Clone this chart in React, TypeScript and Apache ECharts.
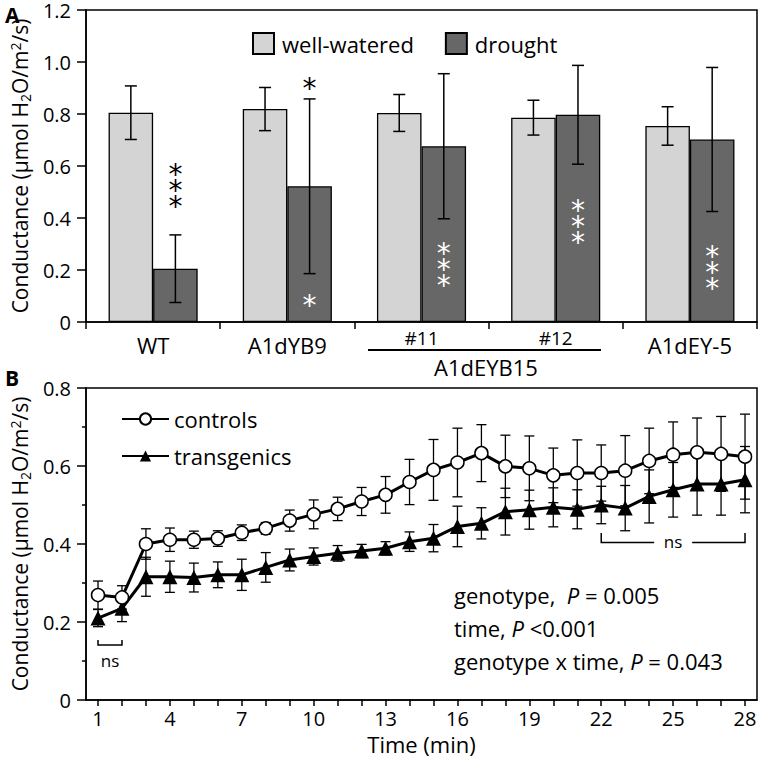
import React, { useEffect, useRef } from "react";
import * as echarts from "echarts";

// ---------- Panel A data ----------
const groups = ["WT", "A1dYB9", "#11", "#12", "A1dEY-5"];
const wellWatered = [0.805, 0.819, 0.804, 0.786, 0.754];
const wellWateredErr = [0.103, 0.083, 0.071, 0.067, 0.074];
const drought = [0.205, 0.522, 0.676, 0.797, 0.702];
const droughtErr = [0.13, 0.336, 0.279, 0.19, 0.277];
// significance marks: [group index, bar side (0 well-watered, 1 drought), y value, count]
const sigMarks = [
  [0, 1, 0.531, 3],
  [1, 1, 0.925, 1],
  [1, 1, 0.092, 1],
  [2, 1, 0.229, 3],
  [3, 1, 0.394, 3],
  [4, 1, 0.218, 3],
];
const sigColors = ["#000", "#000", "#fff", "#fff", "#fff", "#fff"];
const yTicksA = [0, 1.2, 0.2];

// ---------- Panel B data ----------
const timeMin = Array.from({ length: 28 }, (_, i) => String(i + 1));
const controls = [0.269, 0.263, 0.4, 0.411, 0.411, 0.414, 0.429, 0.44, 0.46, 0.476, 0.49, 0.509, 0.526, 0.559, 0.59, 0.609, 0.633, 0.599, 0.594, 0.576, 0.582, 0.582, 0.588, 0.613, 0.629, 0.635, 0.631, 0.624];
const controlsErr = [0.036, 0.03, 0.039, 0.03, 0.022, 0.02, 0.02, 0.015, 0.027, 0.037, 0.03, 0.036, 0.047, 0.058, 0.078, 0.088, 0.073, 0.08, 0.083, 0.07, 0.085, 0.072, 0.09, 0.084, 0.084, 0.088, 0.096, 0.109];
const transgenics = [0.21, 0.235, 0.316, 0.316, 0.314, 0.321, 0.321, 0.34, 0.359, 0.368, 0.376, 0.382, 0.389, 0.406, 0.415, 0.445, 0.453, 0.483, 0.488, 0.494, 0.489, 0.5, 0.492, 0.522, 0.539, 0.554, 0.554, 0.565];
const transgenicsErr = [0.022, 0.034, 0.05, 0.04, 0.037, 0.033, 0.04, 0.038, 0.028, 0.022, 0.02, 0.017, 0.017, 0.025, 0.035, 0.052, 0.04, 0.06, 0.05, 0.05, 0.05, 0.048, 0.058, 0.068, 0.07, 0.08, 0.08, 0.085];
// brackets: [x start index, x end index, y, y of ends, label below (1) or inline (0)]
const brackets = [
  [0.04, 1.19, 0.141, 0.154, 1],
  [20.9, 27.13, 0.404, 0.428, 0],
];
const bracketLabels = ["ns", "ns"];
const yTicksB = [0, 0.8, 0.2];

const FONT = "Open Sans";
const STAR_FONT = "DejaVu Sans";
const BAR_FRAC = 0.332;

const yNameRich = {
  n: { fontSize: 21, fontFamily: FONT, color: "#000", lineHeight: 24 },
  sub: { fontSize: 14, fontFamily: FONT, color: "#000", lineHeight: 14, verticalAlign: "bottom" },
  sup: { fontSize: 14, fontFamily: FONT, color: "#000", lineHeight: 14, verticalAlign: "top" },
};
const yName = "{n|Conductance (µmol H}{sub|2}{n|O/m}{sup|2}{n|/s)}";

const tickFmt = (v: number) => (v === 0 ? "0" : v.toFixed(1));

function barErr(side: number) {
  return (params: any, api: any) => {
    const i = api.value(0);
    const v = api.value(1);
    const e = api.value(2);
    const catW = api.size([1, 0])[0];
    const bw = catW * BAR_FRAC;
    const c = api.coord([i, v]);
    const x = c[0] + (side ? bw / 2 : -bw / 2);
    const yt = api.coord([i, v + e])[1];
    const yb = api.coord([i, v - e])[1];
    const cap = 6;
    const st = { stroke: "#000", lineWidth: 1.5 };
    return {
      type: "group",
      children: [
        { type: "line", shape: { x1: x, y1: yt, x2: x, y2: yb }, style: st },
        { type: "line", shape: { x1: x - cap, y1: yt, x2: x + cap, y2: yt }, style: st },
        { type: "line", shape: { x1: x - cap, y1: yb, x2: x + cap, y2: yb }, style: st },
      ],
    };
  };
}

function pointErr(params: any, api: any) {
  const i = api.value(0);
  const v = api.value(1);
  const e = api.value(2);
  const x = api.coord([i, v])[0];
  const yt = api.coord([i, v + e])[1];
  const yb = api.coord([i, v - e])[1];
  const cap = 5;
  const st = { stroke: "#000", lineWidth: 1.3 };
  return {
    type: "group",
    children: [
      { type: "line", shape: { x1: x, y1: yt, x2: x, y2: yb }, style: st },
      { type: "line", shape: { x1: x - cap, y1: yt, x2: x + cap, y2: yt }, style: st },
      { type: "line", shape: { x1: x - cap, y1: yb, x2: x + cap, y2: yb }, style: st },
    ],
  };
}

function sigRender(params: any, api: any) {
  const g = api.value(0);
  const side = api.value(1);
  const yv = api.value(2);
  const n = api.value(3);
  const catW = api.size([1, 0])[0];
  const bw = catW * BAR_FRAC;
  const c = api.coord([g, yv]);
  const x = c[0] + (side ? bw / 2 : -bw / 2);
  const color = sigColors[params.dataIndex];
  const text = Array.from({ length: n }, () => "*").join("\n");
  return {
    type: "text",
    style: {
      text,
      x,
      y: c[1] + 7,
      fill: color,
      fontSize: 28,
      fontFamily: STAR_FONT,
      lineHeight: 16,
      align: "center",
      verticalAlign: "middle",
    },
  };
}

function bracketRender(params: any, api: any) {
  const x1 = api.coord([api.value(0), api.value(2)])[0];
  const x2 = api.coord([api.value(1), api.value(2)])[0];
  const y = api.coord([0, api.value(2)])[1];
  const ye = api.coord([0, api.value(3)])[1];
  const below = api.value(4);
  const label = bracketLabels[params.dataIndex];
  const st = { stroke: "#000", lineWidth: 1.5, fill: null };
  const children: any[] = [];
  const mid = (x1 + x2) / 2;
  const ts = { fill: "#000", fontSize: 17, fontFamily: FONT, align: "center", verticalAlign: "middle" };
  if (below) {
    children.push({ type: "polyline", shape: { points: [[x1, ye], [x1, y], [x2, y], [x2, ye]] }, style: st });
    children.push({ type: "text", style: { ...ts, text: label, x: mid, y: y + 15 } });
  } else {
    const gap = 19;
    children.push({ type: "polyline", shape: { points: [[x1, ye], [x1, y], [mid - gap, y]] }, style: st });
    children.push({ type: "polyline", shape: { points: [[mid + gap, y], [x2, y], [x2, ye]] }, style: st });
    children.push({ type: "text", style: { ...ts, text: label, x: mid, y: y - 1 } });
  }
  return { type: "group", children };
}

const axisLineStyle = { color: "#000", width: 1.5 };
const statRich = { n: { fontSize: 22, fontFamily: FONT, fill: "#000" }, i: { fontSize: 22, fontFamily: FONT, fontStyle: "italic", fill: "#000" } };
const panelLetter = { fontSize: 21, fontWeight: "bold", fontFamily: FONT, fill: "#000", align: "left", verticalAlign: "top" };

export default function App() {
  const ref = useRef<HTMLDivElement>(null);
  useEffect(() => {
    if (!ref.current) return;
    const chart = echarts.init(ref.current, undefined, { renderer: "svg" });
    const option: any = {
      animation: false,
      backgroundColor: "#fff",
      textStyle: { fontFamily: FONT },
      grid: [
        { left: 79, top: 8, width: 678, height: 314, show: true, borderColor: "#000", borderWidth: 1.5, backgroundColor: "transparent" },
        { left: 79, top: 388, width: 678, height: 312, show: true, borderColor: "#000", borderWidth: 1.5, backgroundColor: "transparent" },
      ],
      legend: [
        {
          data: ["well-watered", "drought"],
          left: 247,
          top: 27,
          itemWidth: 21,
          itemHeight: 21,
          itemGap: 31,
          icon: "rect",
          textStyle: { fontSize: 22, color: "#000", fontFamily: FONT, padding: [0, 0, 0, 3] },
        },
        {
          data: ["controls", "transgenics"],
          left: 116,
          top: 399,
          orient: "vertical",
          itemWidth: 47,
          itemHeight: 14,
          itemGap: 7,
          textStyle: { fontSize: 22, color: "#000", fontFamily: FONT, padding: [0, 0, 0, 0], lineHeight: 30 },
        },
      ],
      xAxis: [
        {
          type: "category",
          gridIndex: 0,
          data: groups,
          axisLine: { lineStyle: axisLineStyle },
          axisTick: { show: true, length: 7, lineStyle: axisLineStyle },
          axisLabel: {
            margin: 4,
            color: "#000",
            formatter: (v: string) => (v.startsWith("#") ? `{s|${v}}` : `{n|${v}}`),
            rich: {
              n: { fontSize: 22, fontFamily: FONT, color: "#000", lineHeight: 38 },
              s: { fontSize: 19, fontFamily: FONT, color: "#000", lineHeight: 24 },
            },
          },
          splitLine: { show: false },
        },
        {
          type: "category",
          gridIndex: 1,
          data: timeMin,
          boundaryGap: true,
          axisLine: { lineStyle: axisLineStyle },
          axisTick: { show: true, alignWithLabel: true, interval: 0, length: 6, lineStyle: axisLineStyle },
          axisLabel: { interval: 2, fontSize: 20, color: "#000", margin: 8 },
          name: "Time (min)",
          nameLocation: "middle",
          nameGap: 33,
          nameTextStyle: { fontSize: 22, color: "#000" },
          splitLine: { show: false },
        },
      ],
      yAxis: [
        {
          type: "value",
          gridIndex: 0,
          min: yTicksA[0],
          max: yTicksA[1],
          interval: yTicksA[2],
          axisLine: { show: true, lineStyle: axisLineStyle },
          axisTick: { show: true, length: 9, lineStyle: axisLineStyle },
          axisLabel: { fontSize: 20, lineHeight: 16, color: "#000", margin: 15, formatter: tickFmt },
          splitLine: { show: false },
          name: yName,
          nameLocation: "middle",
          nameRotate: 90,
          nameGap: 52,
          nameTextStyle: { rich: yNameRich },
        },
        {
          type: "value",
          gridIndex: 1,
          min: yTicksB[0],
          max: yTicksB[1],
          interval: yTicksB[2],
          axisLine: { show: true, lineStyle: axisLineStyle },
          axisTick: { show: true, length: 9, lineStyle: axisLineStyle },
          minorTick: { show: true, splitNumber: 2, length: 4, lineStyle: axisLineStyle },
          axisLabel: { fontSize: 20, lineHeight: 16, color: "#000", margin: 15, formatter: tickFmt },
          splitLine: { show: false },
          name: yName,
          nameLocation: "middle",
          nameRotate: 90,
          nameGap: 52,
          nameTextStyle: { rich: yNameRich },
        },
      ],
      series: [
        {
          name: "well-watered",
          type: "bar",
          xAxisIndex: 0,
          yAxisIndex: 0,
          data: wellWatered,
          barWidth: "33.2%",
          barGap: "0%",
          itemStyle: { color: "#d4d4d4", borderColor: "#000", borderWidth: 1.3 },
        },
        {
          name: "drought",
          type: "bar",
          xAxisIndex: 0,
          yAxisIndex: 0,
          data: drought,
          barWidth: "33.2%",
          barGap: "0%",
          itemStyle: { color: "#676767", borderColor: "#000", borderWidth: 1.3 },
        },
        {
          type: "custom",
          xAxisIndex: 0,
          yAxisIndex: 0,
          z: 5,
          renderItem: barErr(0),
          data: wellWatered.map((v, i) => [i, v, wellWateredErr[i]]),
        },
        {
          type: "custom",
          xAxisIndex: 0,
          yAxisIndex: 0,
          z: 5,
          renderItem: barErr(1),
          data: drought.map((v, i) => [i, v, droughtErr[i]]),
        },
        {
          type: "custom",
          xAxisIndex: 0,
          yAxisIndex: 0,
          z: 6,
          renderItem: sigRender,
          data: sigMarks,
        },
        {
          type: "custom",
          xAxisIndex: 1,
          yAxisIndex: 1,
          z: 1,
          renderItem: pointErr,
          data: controls.map((v, i) => [i, v, controlsErr[i]]),
        },
        {
          type: "custom",
          xAxisIndex: 1,
          yAxisIndex: 1,
          z: 1,
          renderItem: pointErr,
          data: transgenics.map((v, i) => [i, v, transgenicsErr[i]]),
        },
        {
          name: "controls",
          type: "line",
          xAxisIndex: 1,
          yAxisIndex: 1,
          data: controls,
          symbol: "circle",
          symbolSize: 13,
          z: 4,
          itemStyle: { color: "#fff", borderColor: "#000", borderWidth: 1.5 },
          lineStyle: { color: "#000", width: 3 },
        },
        {
          name: "transgenics",
          type: "line",
          xAxisIndex: 1,
          yAxisIndex: 1,
          data: transgenics,
          symbol: "triangle",
          symbolSize: 15,
          z: 3,
          itemStyle: { color: "#000" },
          lineStyle: { color: "#000", width: 3 },
        },
        {
          type: "custom",
          xAxisIndex: 1,
          yAxisIndex: 1,
          z: 2,
          renderItem: bracketRender,
          data: brackets,
        },
      ],
      graphic: [
        { type: "text", x: 5, y: 4, style: { ...panelLetter, text: "A" } },
        { type: "text", x: 5, y: 367, style: { ...panelLetter, text: "B" } },
        { type: "line", shape: { x1: 368, y1: 350, x2: 601, y2: 350 }, style: { stroke: "#000", lineWidth: 2 } },
        {
          type: "text",
          x: 486,
          y: 367,
          style: { text: "A1dEYB15", fontSize: 22, fontFamily: FONT, fill: "#000", align: "center", verticalAlign: "middle" },
        },
        {
          type: "text",
          x: 454,
          y: 595,
          style: { text: "{n|genotype,  }{i|P}{n| = 0.005}", verticalAlign: "middle", rich: statRich },
        },
        {
          type: "text",
          x: 454,
          y: 628,
          style: { text: "{n|time, }{i|P}{n| <0.001}", verticalAlign: "middle", rich: statRich },
        },
        {
          type: "text",
          x: 454,
          y: 661,
          style: { text: "{n|genotype x time, }{i|P}{n| = 0.043}", verticalAlign: "middle", rich: statRich },
        },
      ],
    };
    chart.setOption(option);
    return () => chart.dispose();
  }, []);
  return <div ref={ref} style={{ position: "fixed", left: 0, top: 0, width: 760, height: 763 }} />;
}
